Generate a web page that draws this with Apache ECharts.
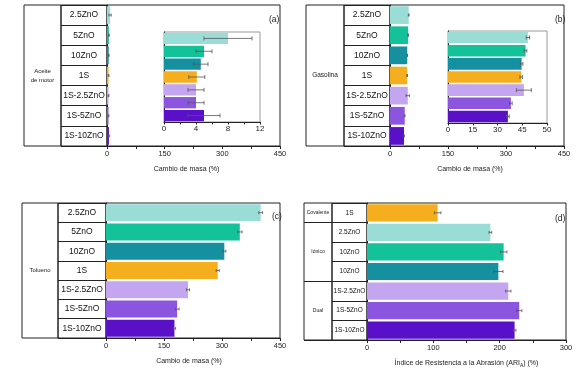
<!DOCTYPE html>
<html><head><meta charset="utf-8">
<script src="https://cdn.jsdelivr.net/npm/echarts@6/dist/echarts.min.js"></script>
<style>html,body{margin:0;padding:0;background:#fff}#c{width:586px;height:369px}</style>
</head><body><div id="c"></div>
<script>
// ---------- data ----------
const categories = ['2.5ZnO','5ZnO','10ZnO','1S','1S-2.5ZnO','1S-5ZnO','1S-10ZnO'];
const colors = ['#9ADDD6','#14C29A','#1590A0','#F5AE1E','#C3A5F0','#8C55E0','#5A10C8'];
const aceiteValues = [8, 5, 4.6, 4.1, 4, 4, 5];
const aceiteErrors = [3, 1, 0.9, 1, 1, 1, 2];
const aceiteGroup = ['','','','Aceite\nde motor','','',''];
const gasolinaValues = [48.4, 47, 44.6, 44.4, 46, 38.1, 36.3];
const gasolinaErrors = [1, 0.8, 0.8, 0.8, 4.5, 0.8, 0.8];
const gasolinaGroup = ['','','','Gasolina','','',''];
const toluenoValues = [400, 346, 306, 289, 212, 184, 177];
const toluenoErrors = [5, 6, 4, 4, 4, 5, 3];
const toluenoGroup = ['','','','Tolueno','','',''];
const ariCategories = ['1S','2.5ZnO','10ZnO','10ZnO','1S-2.5ZnO','1S-5ZnO','1S-10ZnO'];
const ariColors = ['#F5AE1E','#9ADDD6','#14C29A','#1590A0','#C3A5F0','#8C55E0','#5A10C8'];
const ariValues = [106.5, 186, 206, 198, 213, 229.5, 222.5];
const ariErrors = [5, 2, 5, 7, 4, 4, 2];
const ariGroup = ['Covalente','','Iónico','','','Dual',''];
const ariGroupBreaks = [1, 4];
const massTickLabels = ['0','150','300','450'];
const insetATickLabels = ['0','4','8','12'];
const insetBTickLabels = ['0','15','30','45','50'];
const ariTickLabels = ['0','100','200','300'];

// ---------- chart ----------
const FONT = 'Liberation Sans, Arial, sans-serif';
const option = {animation:false, backgroundColor:'#fff', textStyle:{fontFamily:FONT},
  grid:[], xAxis:[], yAxis:[], series:[], title:[]};

function addGrid(box, xAxis, yAxis, gridStyle){
  const gi = option.grid.length;
  option.grid.push(Object.assign({show:true, borderColor:'#222', borderWidth:1,
    left:box[0], top:box[1], width:box[2]-box[0], height:box[3]-box[1]}, gridStyle||{}));
  xAxis.gridIndex = gi; yAxis.gridIndex = gi;
  option.xAxis.push(xAxis); option.yAxis.push(yAxis);
  return gi;
}
function hiddenX(){ return {type:'value', min:0, max:1, show:false}; }
function errRender(cap, color){
  return function(params, api){
    const c = api.value(0), v = api.value(1), e = api.value(2);
    const a = api.coord([v - e, c]), b = api.coord([v + e, c]);
    const st = {stroke:color, lineWidth:0.8};
    return {type:'group', children:[
      {type:'line', shape:{x1:a[0], y1:a[1], x2:b[0], y2:b[1]}, style:st},
      {type:'line', shape:{x1:a[0], y1:a[1]-cap, x2:a[0], y2:a[1]+cap}, style:st},
      {type:'line', shape:{x1:b[0], y1:b[1]-cap, x2:b[0], y2:b[1]+cap}, style:st}
    ]};
  };
}
function addBars(gi, cats, vals, errs, cols, cap){
  option.series.push({type:'bar', xAxisIndex:gi, yAxisIndex:gi, barCategoryGap:'12%',
    data: vals.map((v,i)=>({value:v, itemStyle:{color:cols[i]}}))});
  option.series.push({type:'custom', xAxisIndex:gi, yAxisIndex:gi, renderItem:errRender(cap,'#555'),
    encode:{x:1, y:0}, data: vals.map((v,i)=>[i, v, errs[i]]), z:5});
}

function panel(p){
  const [l,t,r,b] = p.frame;
  // group column
  addGrid([l,t,p.groupRight,b], hiddenX(), {type:'category', inverse:true, data:p.group,
    axisLine:{show:false}, axisTick:{show:false},
    axisLabel:{interval:0, inside:true, margin:(p.groupRight-l)/2, align:'center',
      fontSize:p.groupFont, color:'#222', lineHeight:p.groupFont+3},
    splitLine:{show:!!p.breaks, interval:(i)=> p.breaks ? p.breaks.includes(i) : false,
      lineStyle:{color:'#222', width:1}}});
  // category column
  addGrid([p.groupRight,t,p.catRight,b], hiddenX(), {type:'category', inverse:true, data:p.cats,
    axisLine:{show:false}, axisTick:{show:false},
    axisLabel:{interval:0, inside:true, margin:(p.catRight-p.groupRight)/2, align:'center',
      fontSize:p.catFont, color:'#111'},
    splitLine:{show:true, lineStyle:{color:'#222', width:1}}});
  // main plot
  const gi = addGrid([p.catRight,t,r,b], {type:'value', min:0, max:p.max, interval:p.interval,
      axisLine:{show:true, lineStyle:{color:'#222'}},
      axisTick:{show:true, length:3, lineStyle:{color:'#222'}},
      axisLabel:{fontSize:7.5, color:'#222', margin:4,
        formatter:(v)=> (v % p.labelStep === 0) ? p.tickLabels[v / p.labelStep] : ''},
      splitLine:{show:false},
      name:p.name, nameLocation:'middle', nameGap:p.nameGap,
      nameTextStyle:{fontSize:7, color:'#222', padding:[0,p.namePad||0,0,0],
        rich:{sub:{fontSize:5, verticalAlign:'bottom', padding:[4,0,0,0]}}}},
    {type:'category', inverse:true, data:p.cats, axisLine:{show:true, lineStyle:{color:'#222'}},
      axisTick:{show:false}, axisLabel:{show:false}});
  addBars(gi, p.cats, p.values, p.errors, p.colors, 1.5);
  option.title.push({text:p.tag, left:p.tagPos[0], top:p.tagPos[1],
    textStyle:{fontSize:8.5, fontWeight:'normal', color:'#222', fontFamily:FONT}});
}
function inset(p){
  const gi = addGrid(p.box, {type:'value', min:0, max:p.max, interval:p.interval,
      axisLine:{show:true, lineStyle:{color:'#222'}},
      axisTick:{show:true, length:2.5, lineStyle:{color:'#222'}},
      axisLabel:{fontSize:8, color:'#222', margin:3,
        formatter:(v)=> (v % p.labelStep === 0) ? p.tickLabels[v / p.labelStep] : ''},
      splitLine:{show:false}},
    {type:'category', inverse:true, data:categories, axisLine:{show:true, lineStyle:{color:'#222'}},
      axisTick:{show:false}, axisLabel:{show:false}},
    {borderColor:'#999', backgroundColor:'#fff'});
  addBars(gi, categories, p.values, p.errors, colors, 2);
}

panel({frame:[24,5,280,146], groupRight:61, catRight:107, cats:categories, colors:colors,
  values:aceiteValues, errors:aceiteErrors, group:aceiteGroup, groupFont:6,
  catFont:8.5, max:450, interval:75, labelStep:150, tickLabels:massTickLabels,
  name:'Cambio de masa (%)', nameGap:20, namePad:14, tag:'(a)', tagPos:[264,10]});
panel({frame:[306,5,564,146], groupRight:344, catRight:390, cats:categories, colors:colors,
  values:gasolinaValues, errors:gasolinaErrors, group:gasolinaGroup, groupFont:6.5,
  catFont:8.5, max:450, interval:75, labelStep:150, tickLabels:massTickLabels,
  name:'Cambio de masa (%)', nameGap:20, namePad:14, tag:'(b)', tagPos:[550,10]});
panel({frame:[22,203,280,338], groupRight:58, catRight:106, cats:categories, colors:colors,
  values:toluenoValues, errors:toluenoErrors, group:toluenoGroup, groupFont:6,
  catFont:8.5, max:450, interval:75, labelStep:150, tickLabels:massTickLabels,
  name:'Cambio de masa (%)', nameGap:20, namePad:8, tag:'(c)', tagPos:[267,207]});
panel({frame:[304,203,566,340], groupRight:332, catRight:367, cats:ariCategories, colors:ariColors,
  values:ariValues, errors:ariErrors, group:ariGroup, breaks:ariGroupBreaks, groupFont:5,
  catFont:6.5, max:300, interval:50, labelStep:100, tickLabels:ariTickLabels,
  name:'Índice de Resistencia a la Abrasión (ARI{sub|A}) (%)', nameGap:19, namePad:0,
  tag:'(d)', tagPos:[550,209]});
inset({box:[164,32,260,122], max:12, interval:2, labelStep:4, tickLabels:insetATickLabels,
  values:aceiteValues, errors:aceiteErrors});
inset({box:[448,31,547,123], max:60, interval:15, labelStep:15, tickLabels:insetBTickLabels,
  values:gasolinaValues, errors:gasolinaErrors});

echarts.init(document.getElementById('c'), null, {renderer:'canvas'}).setOption(option);
</script></body></html>
